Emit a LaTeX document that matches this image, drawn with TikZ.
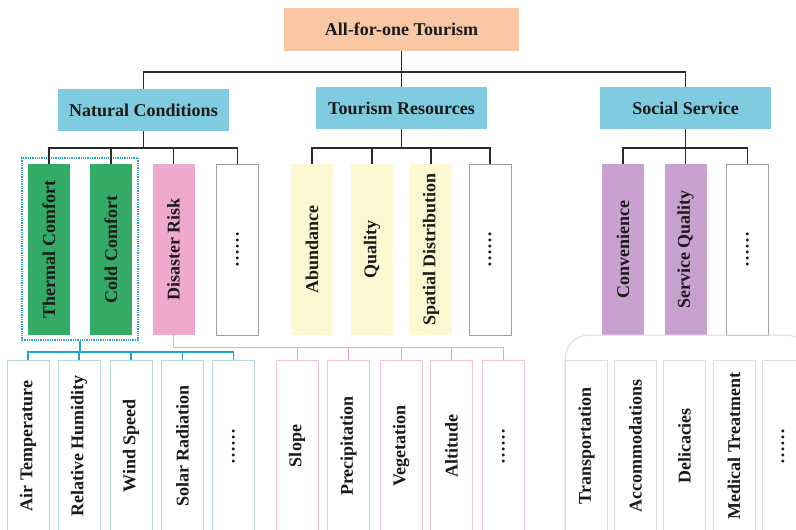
\documentclass[tikz,border=0pt]{standalone}
\usepackage{fontspec}
\setmainfont{Liberation Serif}
\usepackage{graphicx}
\definecolor{txt}{HTML}{1A1A1A}
\definecolor{lineblack}{HTML}{2B2B2B}
\definecolor{orangefill}{HTML}{F9C7A3}
\definecolor{headblue}{HTML}{7FCCE0}
\definecolor{greenfill}{HTML}{33AA66}
\definecolor{pinkfill}{HTML}{EFA9CF}
\definecolor{yellowfill}{HTML}{FDF7D2}
\definecolor{purplefill}{HTML}{C9A1D1}
\definecolor{boxgray}{HTML}{A0A0A0}
\definecolor{blueline}{HTML}{1FA3D2}
\definecolor{blueedge}{HTML}{B6D8E6}
\definecolor{pinkline}{HTML}{EEA0C8}
\definecolor{pinkedge}{HTML}{F4C2DA}
\definecolor{softgray}{HTML}{E2DAE2}
\begin{document}
\begin{tikzpicture}[x=1pt,y=-1pt,
  base/.style={inner sep=0pt, font=\fontsize{18}{20}\selectfont\bfseries, text=txt},
  headbox/.style={base, fill=headblue, minimum width=171pt, minimum height=42pt},
  colbox/.style={base, minimum width=42pt, minimum height=171pt},
  emptybox/.style={colbox, draw=boxgray, line width=0.8pt, fill=white},
  leafbox/.style={base, minimum width=42pt, minimum height=172pt, fill=white, line width=0.8pt},
  conn/.style={draw=lineblack, line width=1.1pt},
  bconn/.style={draw=blueline, line width=1.1pt},
  pconn/.style={draw=pinkline, line width=1pt}]
\useasboundingbox (0,0) rectangle (796,530);
\clip (0,0) rectangle (796,530);
\fill[white] (0,0) rectangle (796,530);

% top
\node[base, fill=orangefill, minimum width=235pt, minimum height=43pt] (top) at (401.5,29.5) {All-for-one Tourism};
\node[headbox] (nc) at (143.5,110) {Natural Conditions};
\node[headbox] (tr) at (401.5,108) {Tourism Resources};
\node[headbox] (ss) at (685.5,108) {Social Service};

% second level
\node[colbox, fill=greenfill] (tc) at (49,249.5) {\rotatebox{90}{Thermal Comfort}};
\node[colbox, fill=greenfill] (cc) at (111,249.5) {\rotatebox{90}{Cold Comfort}};
\node[colbox, fill=pinkfill] (dr) at (173.5,249.5) {\rotatebox{90}{Disaster Risk}};
\node[emptybox] (nd) at (237.5,249.5) {\rotatebox{90}{……}};
\node[draw=blueline, densely dotted, line width=1.3pt, minimum width=116pt, minimum height=182pt, inner sep=0pt] (dash) at (80,249) {};

\node[colbox, fill=yellowfill] (ab) at (312,249.5) {\rotatebox{90}{Abundance}};
\node[colbox, fill=yellowfill] (qu) at (372,249.5) {\rotatebox{90}{Quality}};
\node[colbox, fill=yellowfill] (sd) at (431,249.5) {\rotatebox{90}{Spatial Distribution}};
\node[emptybox] (rd) at (490,249.5) {\rotatebox{90}{……}};

\node[colbox, fill=purplefill] (cv) at (623,249.5) {\rotatebox{90}{Convenience}};
\node[colbox, fill=purplefill] (sq) at (685.5,249.5) {\rotatebox{90}{Service Quality}};
\node[emptybox] (sdots) at (747.5,249.5) {\rotatebox{90}{……}};

% leaves
\node[leafbox, draw=blueedge] (at) at (28,446) {\rotatebox{90}{Air Temperature}};
\node[leafbox, draw=blueedge] (rh) at (79,446) {\rotatebox{90}{Relative Humidity}};
\node[leafbox, draw=blueedge] (ws) at (131,446) {\rotatebox{90}{Wind Speed}};
\node[leafbox, draw=blueedge] (sr) at (182.5,446) {\rotatebox{90}{Solar Radiation}};
\node[leafbox, draw=blueedge] (bd) at (233.5,446) {\rotatebox{90}{……}};

\node[leafbox, draw=pinkedge] (sl) at (297,446) {\rotatebox{90}{Slope}};
\node[leafbox, draw=pinkedge] (pr) at (348.5,446) {\rotatebox{90}{Precipitation}};
\node[leafbox, draw=pinkedge] (ve) at (401,446) {\rotatebox{90}{Vegetation}};
\node[leafbox, draw=pinkedge] (al) at (451.5,446) {\rotatebox{90}{Altitude}};
\node[leafbox, draw=pinkedge] (pd) at (503.5,446) {\rotatebox{90}{……}};

\draw[softgray, line width=1pt, rounded corners=24pt] (565,545) -- (565,335) -- (810,335) -- (810,545);
\node[leafbox, draw=softgray] (tp) at (586.5,446) {\rotatebox{90}{Transportation}};
\node[leafbox, draw=softgray] (ac) at (635.5,446) {\rotatebox{90}{Accommodations}};
\node[leafbox, draw=softgray] (de) at (684.5,446) {\rotatebox{90}{Delicacies}};
\node[leafbox, draw=softgray] (me) at (734,446) {\rotatebox{90}{Medical Treatment}};
\node[leafbox, draw=softgray] (sdd) at (783,446) {\rotatebox{90}{……}};

% connectors
\coordinate (b0) at (401.5,72);
\coordinate (b1) at (143.5,148);
\coordinate (b2) at (401.5,148);
\coordinate (b3) at (685.5,148);
\coordinate (bb) at (80,352);
\coordinate (pb) at (173.5,347);

\draw[conn] (top.south) -- (b0);
\draw[conn] (b0) -| (nc.north);
\draw[conn] (b0) -- (tr.north);
\draw[conn] (b0) -| (ss.north);

\draw[conn] (nc.south) -- (b1);
\foreach \c in {tc,cc,dr,nd} \draw[conn] (b1) -| (\c.north);
\draw[conn] (tr.south) -- (b2);
\foreach \c in {ab,qu,sd,rd} \draw[conn] (b2) -| (\c.north);
\draw[conn] (ss.south) -- (b3);
\foreach \c in {cv,sq,sdots} \draw[conn] (b3) -| (\c.north);

\draw[bconn] (dash.south) -- (bb);
\foreach \c in {at,rh,ws,sr,bd} \draw[bconn] (bb) -| (\c.north);

\draw[pconn] (dr.south) -- (pb);
\foreach \c in {sl,pr,ve,al,pd} \draw[pconn] (pb) -| (\c.north);
\end{tikzpicture}
\end{document}
